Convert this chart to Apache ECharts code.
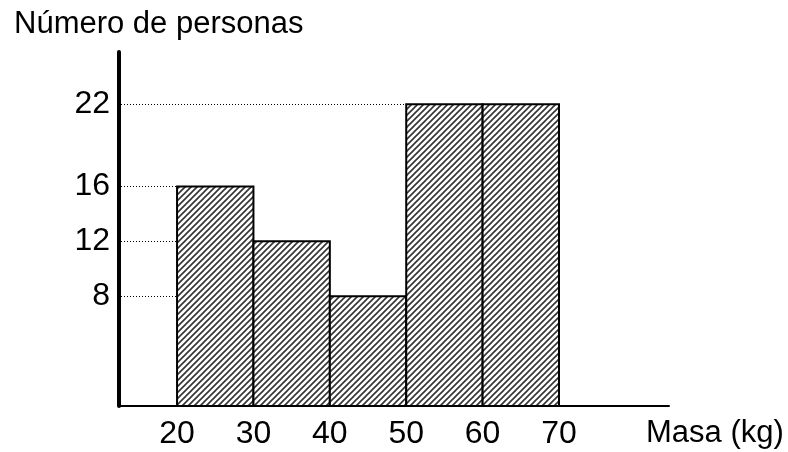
<!DOCTYPE html>
<html>
<head>
<meta charset="utf-8">
<script src="https://cdn.jsdelivr.net/npm/echarts@6/dist/echarts.min.js"></script>
<style>html,body{margin:0;padding:0;background:#fff}#c{width:788px;height:452px}</style>
</head>
<body>
<div id="c"></div>
<script>
const binStarts = [20, 30, 40, 50, 60];
const binEnds = [30, 40, 50, 60, 70];
const counts = [16, 12, 8, 22, 22];
const xTickLabels = [20, 30, 40, 50, 60, 70];
const yTickLabels = [8, 12, 16, 22];
const yTitle = 'Número de personas';
const xTitle = 'Masa (kg)';

const FONT = '"Liberation Sans", Arial, sans-serif';
const X_MIN = 12.4, X_MAX = 84.4, Y_MAX = 25.8;

// diagonal hatch pattern
const pc = document.createElement('canvas');
pc.width = 6; pc.height = 6;
const g = pc.getContext('2d');
g.fillStyle = '#fff'; g.fillRect(0, 0, 6, 6);
g.strokeStyle = '#333'; g.lineWidth = 1.6;
g.beginPath();
g.moveTo(-1, 7); g.lineTo(7, -1);
g.moveTo(-4, 4); g.lineTo(4, -4);
g.moveTo(2, 10); g.lineTo(10, 2);
g.stroke();

const data = binStarts.map((s, i) => [s, binEnds[i], counts[i]]);

const chart = echarts.init(document.getElementById('c'));
chart.setOption({
  animation: false,
  backgroundColor: '#fff',
  grid: { left: 119, right: 119, top: 52, bottom: 46, containLabel: false },
  xAxis: {
    type: 'value', min: X_MIN, max: X_MAX,
    axisLine: { lineStyle: { color: '#000', width: 2 } },
    axisTick: { show: false },
    splitLine: { show: false },
    axisLabel: { customValues: xTickLabels, fontSize: 32, color: '#000', fontFamily: FONT, margin: 12 }
  },
  yAxis: {
    type: 'value', min: 0, max: Y_MAX,
    axisLine: { show: true, lineStyle: { color: '#000', width: 4 } },
    axisTick: { show: false },
    splitLine: { show: false },
    axisLabel: { customValues: yTickLabels, fontSize: 32, color: '#000', fontFamily: FONT, margin: 9 }
  },
  graphic: [
    { type: 'text', left: 14, top: 9, style: { text: yTitle, fontSize: 31, fill: '#000', fontFamily: FONT } },
    { type: 'text', left: 646, top: 418, style: { text: xTitle, fontSize: 31, fill: '#000', fontFamily: FONT } }
  ],
  series: [{
    type: 'custom',
    data: data,
    encode: { x: [0, 1], y: 2 },
    renderItem: function (params, api) {
      const x0 = api.value(0), x1 = api.value(1), v = api.value(2);
      const a = api.coord([x0, v]);
      const b = api.coord([x1, 0]);
      const axisPt = api.coord([X_MIN, v]);
      const ly = Math.round(a[1]) + 0.5;
      return {
        type: 'group',
        children: [
          {
            type: 'line', z2: 0,
            shape: { x1: axisPt[0] + 2, y1: ly, x2: a[0], y2: ly },
            style: { stroke: '#000', lineWidth: 1, lineDash: [1, 2] }
          },
          {
            type: 'rect', z2: 10,
            shape: { x: a[0], y: a[1], width: b[0] - a[0], height: b[1] - a[1] },
            style: { fill: { image: pc, repeat: 'repeat' }, stroke: '#000', lineWidth: 2 }
          }
        ]
      };
    }
  }]
});
</script>
</body>
</html>
